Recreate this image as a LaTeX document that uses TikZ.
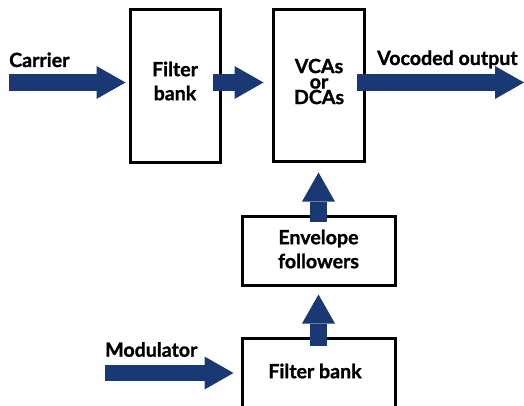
\documentclass[tikz,border=0pt]{standalone}
\usepackage{fontspec}
\setmainfont{Lato}[BoldFeatures={FakeBold=1.2}]
\usetikzlibrary{arrows.meta,calc}
\definecolor{vocblue}{RGB}{25,57,116}
\tikzset{
  block/.style={draw=black, line width=3pt, inner sep=0pt},
  blocktext/.style={align=center, inner sep=0pt, font=\bfseries\fontsize{19.6}{24}\selectfont},
  tag/.style={anchor=base west, inner sep=0pt, font=\bfseries\fontsize{19.6}{24}\selectfont},
  fat/.style={vocblue, line width=16.5pt, -{Triangle[length=29pt,width=33pt,line width=0pt]}}
}

\begin{document}
\begin{tikzpicture}[x=1pt,y=-1pt]
\useasboundingbox (0,0) rectangle (524,406);
% boxes
\node [block, minimum width=90pt, minimum height=153pt] (bank1) at (175,86.5) {};
\node [block, minimum width=91pt, minimum height=152pt] (vca) at (318.5,86) {};
\node [block, minimum width=153pt, minimum height=69pt] (env) at (318.5,250.5) {};
\node [block, minimum width=153pt, minimum height=80pt] (bank2) at (318.5,378) {};
% texts in the boxes
\node [blocktext] (bank1-txt) at (175,81) {Filter\\bank};
\node [blocktext, font=\bfseries\fontsize{19.6}{15.5}\selectfont] (vca-txt) at (319,81.5) {VCAs\\or\\DCAs};
\node [blocktext] (env-txt) at (318.5,249) {Envelope\\followers};
\node [blocktext] (bank2-txt) at (315,371) {Filter bank};
% signal names
\node [tag] (carrier) at (9,67) {Carrier};
\node [tag] (output) at (377,65) {Vocoded output};
\node [tag] (modulator) at (105,356.7) {Modulator};
\coordinate (carrier-in) at (9,82.5);
\coordinate (out-end) at (524,82.5);
\coordinate (mod-in) at (105,373);
% arrows
\draw [fat] (carrier-in) -- ($(carrier-in -| bank1.west)+(-3,0)$);
\draw [fat] ($(carrier-in -| bank1.east)+(-9,0)$) -- ($(carrier-in -| vca.west)+(-8,0)$);
\draw [fat] ($(carrier-in -| vca.east)+(-9,0)$) -- (out-end);
\draw [fat] ($(env.north)+(0,7)$) -- ($(vca.south)+(0,9)$);
\draw [fat] ($(bank2.north)+(0,9)$) -- ($(env.south)+(0,8)$);
\draw [fat] (mod-in) -- ($(mod-in -| bank2.west)+(-7,0)$);

\end{tikzpicture}
\end{document}
